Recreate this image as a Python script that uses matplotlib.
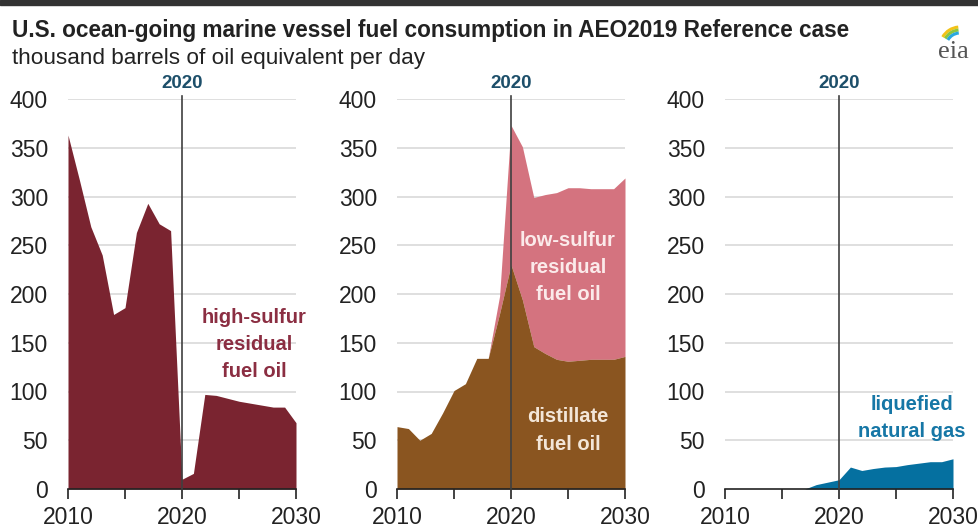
import matplotlib
matplotlib.use("Agg")
import matplotlib.pyplot as plt
from matplotlib.patches import Rectangle, Arc

plt.rcParams['font.family'] = ['Liberation Sans', 'DejaVu Sans']

years = list(range(2010, 2031))
high_sulfur = [363, 317, 269, 240, 179, 186, 263, 293, 272, 265, 10, 16, 97, 96, 93, 90, 88, 86, 84, 84, 68]
distillate = [64, 62, 50, 57, 78, 101, 108, 134, 134, 180, 230, 194, 146, 139, 133, 131, 132, 133, 133, 133, 136]
low_sulfur = [0, 0, 0, 0, 0, 0, 0, 0, 0, 18, 143, 157, 153, 163, 171, 178, 177, 175, 175, 175, 183]
lng = [0, 0, 0, 0, 0, 0, 0, 0, 4.5, 7, 9.5, 22.5, 19, 21, 22.5, 23, 25, 26.5, 28, 28, 31]

yticks = [0, 50, 100, 150, 200, 250, 300, 350, 400]
xticks_minor = [2010, 2015, 2020, 2025, 2030]
xtick_labels = [2010, 2020, 2030]

c_hs = '#7a2430'
c_ls = '#d4737f'
c_dist = '#8a5520'
c_lng = '#0570a0'
c_2020 = '#1d4f6a'

W, H = 979, 528
fig = plt.figure(figsize=(W / 100, H / 100), dpi=100)
fig.patches.append(Rectangle((0, 1 - 5 / H), 1, 5 / H, transform=fig.transFigure,
                             color='#333333', zorder=0))

fig.text(12 / W, 1 - 37 / H, "U.S. ocean-going marine vessel fuel consumption in AEO2019 Reference case",
         fontsize=16.3, fontweight='bold', color='#222222', ha='left', va='baseline')
fig.text(12 / W, 1 - 64 / H, "thousand barrels of oil equivalent per day",
         fontsize=16.2, color='#222222', ha='left', va='baseline')

lefts = [68, 397, 725]
axw = 228
bottom = 489
top = 99
axes = []
for L in lefts:
    ax = fig.add_axes([L / W, 1 - bottom / H, axw / W, (bottom - top) / H])
    axes.append(ax)

for ax in axes:
    ax.set_xlim(2010, 2030)
    ax.set_ylim(0, 400)
    for yv in yticks[1:]:
        ax.plot([2010, 2030], [yv, yv], color='#d9d9d9', lw=1.2, zorder=0.5)
    for s in ['top', 'right', 'left']:
        ax.spines[s].set_visible(False)
    ax.spines['bottom'].set_color('#222222')
    ax.spines['bottom'].set_linewidth(1.2)
    ax.set_yticks(yticks)
    ax.set_yticklabels([str(v) for v in yticks])
    ax.tick_params(axis='y', length=0, pad=14.5, labelsize=16.5, labelcolor='#222222')
    ax.set_xticks(xticks_minor)
    ax.set_xticklabels([str(v) if v in xtick_labels else '' for v in xticks_minor])
    ax.tick_params(axis='x', length=7, width=1.2, color='#222222', pad=5,
                   labelsize=16.5, labelcolor='#222222')
    ax.set_facecolor('none')

ax1, ax2, ax3 = axes
ax1.fill_between(years, 0, high_sulfur, color=c_hs, lw=0, zorder=2)
total = [d + l for d, l in zip(distillate, low_sulfur)]
ax2.fill_between(years, distillate, total, color=c_ls, lw=0, zorder=2)
ax2.fill_between(years, 0, distillate, color=c_dist, lw=0, zorder=2)
ax3.fill_between(years, 0, lng, color=c_lng, lw=0, zorder=2)

for ax in axes:
    ax.plot([2020, 2020], [0, 403], color='#404040', lw=1.2, zorder=3, clip_on=False)
    ax.text(2020, 407, "2020", ha='center', va='bottom', fontsize=13.5,
            fontweight='bold', color=c_2020)

ls = 1.55
ax1.text(2026.3, 148, "high-sulfur\nresidual\nfuel oil", ha='center', va='center',
         fontsize=14.5, fontweight='bold', color='#8b2e42', linespacing=ls)
ax2.text(2025.0, 227, "low-sulfur\nresidual\nfuel oil", ha='center', va='center',
         fontsize=14.5, fontweight='bold', color='#fbeaea', linespacing=ls)
ax2.text(2025.0, 60, "distillate\nfuel oil", ha='center', va='center',
         fontsize=14.5, fontweight='bold', color='#f3e6d8', linespacing=ls)
ax3.text(2026.4, 73, "liquefied\nnatural gas", ha='center', va='center',
         fontsize=14.5, fontweight='bold', color='#1677a6', linespacing=ls)

# eia logo
fig.text(953 / W, 1 - 58 / H, "eia", fontsize=19, color='#555555', ha='center',
         va='baseline', family='Liberation Serif')
lax = fig.add_axes([930 / W, 1 - 45 / H, 40 / W, 25 / H])
lax.set_xlim(0, 40)
lax.set_ylim(0, 25)
lax.axis('off')
for r, col in [(20, '#f2c318'), (17, '#8dc63f'), (14, '#29a8e0')]:
    lax.add_patch(Arc((30, -2), 2 * r, 2 * r, theta1=95, theta2=150, color=col, lw=2.2))

fig.savefig("out.png", dpi=100)
